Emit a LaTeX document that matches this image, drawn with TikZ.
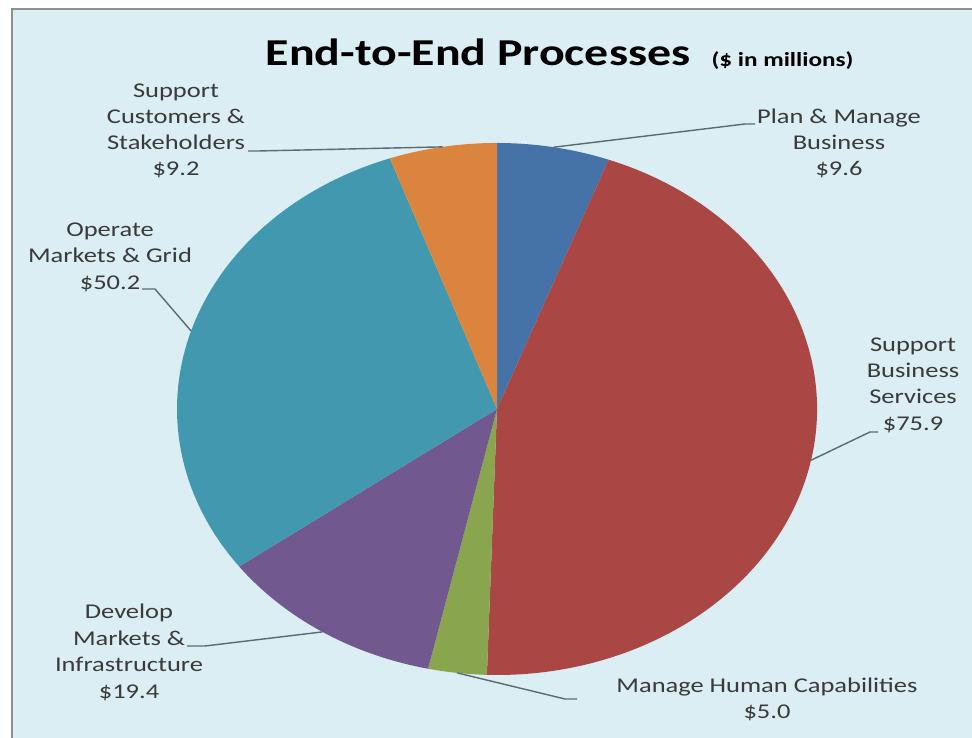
\documentclass[tikz,border=0pt]{standalone}
\usepackage{fontspec}
\setmainfont{Carlito}
\definecolor{bgblue}{HTML}{DBEEF4}
\definecolor{framegray}{HTML}{8E8E8E}
\definecolor{cplan}{HTML}{4572A7}
\definecolor{cred}{HTML}{AA4643}
\definecolor{cgreen}{HTML}{89A54E}
\definecolor{cpurple}{HTML}{71588F}
\definecolor{cteal}{HTML}{4198AF}
\definecolor{corange}{HTML}{DB843D}
\definecolor{leadgray}{HTML}{5A6A70}
\definecolor{labelgray}{HTML}{3A3A3A}
\tikzset{
  lbl/.style={font=\fontsize{21}{26}\selectfont, text=labelgray, xscale=1.26, inner sep=0pt, anchor=base},
  ttl/.style={font=\bfseries\fontsize{38}{44}\selectfont, text=black, xscale=1.26, inner sep=0pt, anchor=base},
  subttl/.style={font=\bfseries\fontsize{20}{24}\selectfont, text=black, xscale=1.26, inner sep=0pt, anchor=base},
  leader/.style={draw=leadgray, line width=1.4pt},
}
\begin{document}
\begin{tikzpicture}[x=1pt,y=1pt]
\useasboundingbox (0,0) rectangle (972,738);
\fill[white] (0,0) rectangle (972,738);
\fill[bgblue] (12,-5) rectangle (980,729);
\draw[framegray, line width=2.5pt] (12,-5) -- (12,729) -- (980,729);

% pie
\coordinate (c) at (497,329);
\fill[cplan]   (c) -- ++(90:320 and 266) arc[start angle=90, end angle=69.587, x radius=320, y radius=266] -- cycle;
\fill[cred]    (c) -- ++(69.587:320 and 266) arc[start angle=69.587, end angle=-91.807, x radius=320, y radius=266] -- cycle;
\fill[cgreen]  (c) -- ++(-91.807:320 and 266) arc[start angle=-91.807, end angle=-102.439, x radius=320, y radius=266] -- cycle;
\fill[cpurple] (c) -- ++(-102.439:320 and 266) arc[start angle=-102.439, end angle=-143.691, x radius=320, y radius=266] -- cycle;
\fill[cteal]   (c) -- ++(-143.691:320 and 266) arc[start angle=-143.691, end angle=-250.436, x radius=320, y radius=266] -- cycle;
\fill[corange] (c) -- ++(-250.436:320 and 266) arc[start angle=-250.436, end angle=-270, x radius=320, y radius=266] -- cycle;

% edge points (slice middles)
\path (c) ++(79.793:320 and 266) coordinate (ePlan);
\path (c) ++(-11.11:320 and 266) coordinate (eSBS);
\path (c) ++(-97.123:320 and 266) coordinate (eMHC);
\path (c) ++(-123.065:320 and 266) coordinate (eDev);
\path (c) ++(-197.064:320 and 266) coordinate (eOp);
\path (c) ++(99.782:320 and 266) coordinate (eSC);

% title
\node[ttl] (title) at (478,672) {End-to-End Processes};
\node[subttl] (subtitle) at (782.5,671) {(\$ in millions)};

% labels
\node[lbl] (sc1) at (176,640) {Support};
\node[lbl] (sc2) at (176,614) {Customers \&};
\node[lbl] (sc3) at (176,588) {Stakeholders};
\node[lbl] (sc4) at (176,562) {\$9.2};

\node[lbl] (pm1) at (839,614) {Plan \& Manage};
\node[lbl] (pm2) at (839,588) {Business};
\node[lbl] (pm3) at (839,562) {\$9.6};

\node[lbl] (sb1) at (913,386) {Support};
\node[lbl] (sb2) at (913,360) {Business};
\node[lbl] (sb3) at (913,334) {Services};
\node[lbl] (sb4) at (913,307) {\$75.9};

\node[lbl] (op1) at (110,501) {Operate};
\node[lbl] (op2) at (110,475) {Markets \& Grid};
\node[lbl] (op3) at (110,448) {\$50.2};

\node[lbl] (dv1) at (129,119) {Develop};
\node[lbl] (dv2) at (129,92) {Markets \&};
\node[lbl] (dv3) at (129,66) {Infrastructure};
\node[lbl] (dv4) at (129,39) {\$19.4};

\node[lbl] (mh1) at (767,45) {Manage Human Capabilities};
\node[lbl] (mh2) at (767,19) {\$5.0};

% leader bends
\coordinate (bPlan) at (745,614);
\coordinate (tPlan) at (755,614);
\coordinate (bSBS) at (870,306);
\coordinate (tSBS) at (878,306);
\coordinate (bMHC) at (565,39);
\coordinate (tMHC) at (577,39);
\coordinate (bDev) at (205,92);
\coordinate (tDev) at (187,92);
\coordinate (bOp) at (155,449);
\coordinate (tOp) at (142,449);
\coordinate (bSC) at (258,587);
\coordinate (tSC) at (248,587);

\draw[leader] (ePlan) -- (bPlan) -- (tPlan);
\draw[leader] (eSBS) -- (bSBS) -- (tSBS);
\draw[leader] (eMHC) -- (bMHC) -- (tMHC);
\draw[leader] (eDev) -- (bDev) -- (tDev);
\draw[leader] (eOp) -- (bOp) -- (tOp);
\draw[leader] (eSC) -- (bSC) -- (tSC);
\end{tikzpicture}
\end{document}
